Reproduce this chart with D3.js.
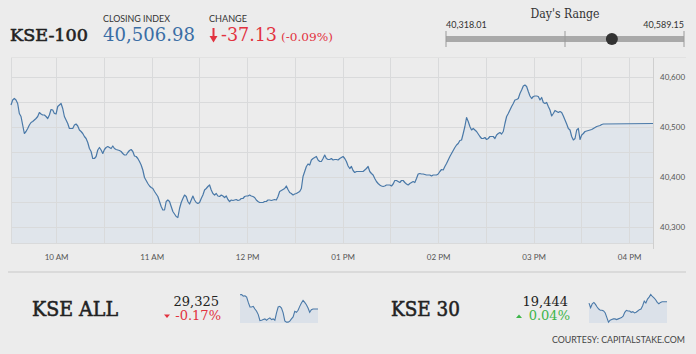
<!DOCTYPE html>
<meta charset="utf-8">
<style>
body { margin: 0; background: #ececec; }
svg { display: block; font-family: Lato, sans-serif; }
.grid line { stroke: #d9dadb; stroke-width: 1; }
.axis text { fill: #555; font-size: 8px; }
.serif { font-family: 'DejaVu Serif', serif; }
</style>
<svg width="696" height="354"></svg>
<script src="https://d3js.org/d3.v7.min.js"></script>
<script>

// KSE-100 intraday, evenly sampled between seriesStart and seriesEnd
var seriesStart = "09:31:40", seriesEnd = "15:43:50";
var kse100 = [
  40544,40554,40557,40554,40547,40527,40521,40504,40487,40491,
  40497,40504,40509,40511,40514,40517,40521,40529,40526,40524,
  40524,40521,40517,40524,40535,40534,40527,40526,40541,40544,
  40547,40537,40521,40514,40507,40497,40497,40497,40504,40506,
  40502,40494,40491,40487,40481,40477,40469,40457,40451,40437,
  40437,40441,40454,40459,40454,40447,40455,40459,40461,40459,
  40457,40462,40457,40455,40454,40453,40451,40447,40444,40444,
  40449,40453,40455,40451,40442,40441,40437,40431,40424,40414,
  40399,40393,40387,40382,40379,40377,40371,40366,40361,40351,
  40341,40334,40334,40351,40354,40351,40341,40331,40326,40321,
  40319,40337,40349,40357,40364,40361,40351,40346,40354,40362,
  40354,40349,40347,40349,40357,40364,40374,40377,40381,40384,
  40374,40367,40364,40367,40362,40361,40364,40362,40359,40362,
  40355,40351,40354,40353,40354,40355,40353,40354,40357,40357,
  40361,40362,40362,40364,40362,40361,40359,40354,40351,40349,
  40349,40349,40351,40351,40354,40354,40353,40354,40355,40354,
  40361,40371,40373,40375,40377,40382,40375,40369,40367,40364,
  40366,40367,40369,40371,40377,40401,40411,40421,40426,40424,
  40434,40437,40439,40441,40434,40431,40431,40437,40444,40437,
  40435,40435,40437,40434,40435,40435,40434,40437,40439,40441,
  40437,40431,40422,40417,
  40421,40413,40409,40411,40411,40411,40411,40411,40414,40417,
  40421,40411,40407,40404,40397,40391,40387,40384,40382,40381,
  40382,40384,40384,40384,40382,40386,40393,40393,40391,40389,
  40393,40393,40389,40386,40384,40387,40389,40391,40389,40397,
  40406,40407,40406,40406,40405,40404,40404,40404,40402,40404,
  40404,40404,40406,40411,40415,40414,40421,40427,40434,40441,
  40447,40453,40459,40464,40467,40473,40474,40487,40501,40519,
  40511,40501,40494,40497,40494,40491,40486,40481,40477,40477,
  40479,40475,40477,40481,40481,40481,40477,40484,40487,40489,
  40486,40491,40507,40521,40527,40534,40541,40547,40554,40555,
  40557,40567,40574,40582,40584,40581,40571,40562,40557,40561,
  40562,40562,40561,40554,40559,40549,40547,40549,40541,40534,
  40522,40527,40533,40531,40529,40531,40529,40522,40514,40506,
  40497,40494,40481,40474,40477,40494,40497,40475,40484,40487,
  40491,40492,40493,40494,40495,40497,40499,40501,40502,40503,
  40505,40506
];
var closeTime = "16:15:00", closeValue = 40506.98;

var axisStart = "09:31:40", axisEnd = "16:15:00";
var yTicksGrid = [40300, 40350, 40400, 40450, 40500, 40550, 40600];
var yTickLabels = [40300, 40400, 40500, 40600];

var dayLow = 40318.01, dayHigh = 40589.15;
var closingIndex = "40,506.98", changeValue = "-37.13", changePct = "(-0.09%)";

var kseAll = [
  29368,29369,29364,29365,29361,29345,29331,29331,29333,29325,
  29318,29308,29290,29291,29293,29295,29291,29295,29298,29293,
  29295,29291,29313,29331,29333,29328,29313,29289,29285,29285,
  29288,29295,29301,29318,29315,29321,29333,29343,29351,29345,
  29338,29328,29315,29323,29325,29325,29325,29325
];
var kse30 = [
  19442,19435,19441,19443,19440,19436,19433,19431,19431,19430,
  19427,19420,19413,19416,19417,19418,19418,19417,19418,19419,
  19420,19422,19428,19431,19430,19430,19428,19429,19427,19428,
  19430,19432,19433,19438,19445,19442,19448,19451,19455,19452,
  19450,19447,19443,19441,19443,19444,19444,19444,19444
];
var subIndices = [
  { name: "KSE ALL", value: "29,325", change: "-0.17%", up: false, series: kseAll },
  { name: "KSE 30", value: "19,444", change: "0.04%", up: true, series: kse30 }
];

var svg = d3.select("svg");
var parse = d3.timeParse("%H:%M:%S");
var red = "#e2323f", green = "#3db54a", lineColor = "#4a79a8", areaColor = "#e0e5eb";

// ---------- header ----------
svg.append("text").attr("class", "serif").attr("x", 10).attr("y", 41)
    .attr("font-size", 17).attr("fill", "#222").attr("stroke", "#222").attr("stroke-width", 0.6)
    .attr("textLength", 78).attr("lengthAdjust", "spacingAndGlyphs").text("KSE-100");

svg.append("text").attr("x", 103).attr("y", 22).attr("font-size", 8.5).attr("fill", "#333")
    .attr("textLength", 67).attr("lengthAdjust", "spacingAndGlyphs").text("CLOSING INDEX");
svg.append("text").attr("class", "serif").attr("x", 103).attr("y", 41)
    .attr("font-size", 18).attr("fill", "#3a6ea5")
    .attr("textLength", 92).attr("lengthAdjust", "spacingAndGlyphs").text(closingIndex);

svg.append("text").attr("x", 209).attr("y", 22).attr("font-size", 8.5).attr("fill", "#333")
    .attr("textLength", 38).attr("lengthAdjust", "spacingAndGlyphs").text("CHANGE");
// down arrow
svg.append("line").attr("x1", 213.5).attr("x2", 213.5).attr("y1", 28).attr("y2", 38)
    .attr("stroke", red).attr("stroke-width", 2);
svg.append("path").attr("d", "M209.5,36L217.5,36L213.5,42.5Z").attr("fill", red);
svg.append("text").attr("class", "serif").attr("x", 221).attr("y", 41)
    .attr("font-size", 18).attr("fill", red)
    .attr("textLength", 56).attr("lengthAdjust", "spacingAndGlyphs").text(changeValue);
svg.append("text").attr("class", "serif").attr("x", 281).attr("y", 41)
    .attr("font-size", 11).attr("fill", red)
    .attr("textLength", 52).attr("lengthAdjust", "spacingAndGlyphs").text(changePct);

// day's range
var rx = d3.scaleLinear().domain([dayLow, dayHigh]).range([446, 684]);
svg.append("text").attr("class", "serif").attr("x", 565).attr("y", 18)
    .attr("text-anchor", "middle").attr("font-size", 12).attr("fill", "#333")
    .attr("textLength", 69).attr("lengthAdjust", "spacingAndGlyphs").text("Day's Range");
svg.append("text").attr("x", 446).attr("y", 28).attr("font-size", 9).attr("fill", "#333")
    .text(d3.format(",.2f")(dayLow));
svg.append("text").attr("x", 684).attr("y", 28).attr("text-anchor", "end")
    .attr("font-size", 9).attr("fill", "#333").text(d3.format(",.2f")(dayHigh));
svg.append("line").attr("x1", rx(dayLow)).attr("x2", rx(dayHigh)).attr("y1", 39).attr("y2", 39)
    .attr("stroke", "#a9a9a9").attr("stroke-width", 6);
[dayLow, (dayLow + dayHigh) / 2, dayHigh].forEach(function(v) {
  svg.append("line").attr("x1", rx(v)).attr("x2", rx(v)).attr("y1", 31).attr("y2", 47)
      .attr("stroke", "#9a9a9a").attr("stroke-width", 1);
});
svg.append("circle").attr("cx", rx(closeValue)).attr("cy", 39).attr("r", 6).attr("fill", "#333");

// ---------- main chart ----------
var x = d3.scaleTime().domain([parse(axisStart), parse(axisEnd)]).range([11, 653]);
var y = d3.scaleLinear().domain([40268, 40638]).range([243, 58]);

var idx = d3.scaleLinear().domain([0, kse100.length - 1])
    .range([parse(seriesStart).getTime(), parse(seriesEnd).getTime()]);
var data = kse100.map(function(v, i) { return { t: new Date(idx(i)), v: v }; });
data.push({ t: parse(closeTime), v: closeValue });

svg.append("line").attr("x1", 11).attr("x2", 686).attr("y1", 57.5).attr("y2", 57.5)
    .attr("stroke", "#e2e2e2");

var area = d3.area().x(function(d) { return x(d.t); }).y0(y.range()[0]).y1(function(d) { return y(d.v); });
svg.append("path").datum(data).attr("d", area).attr("fill", areaColor);

var grid = svg.append("g").attr("class", "grid");
grid.selectAll(".h").data(yTicksGrid).enter().append("line")
    .attr("x1", 11).attr("x2", 653).attr("y1", function(d) { return Math.round(y(d)) + 0.5; })
    .attr("y2", function(d) { return Math.round(y(d)) + 0.5; });
grid.append("line").attr("x1", 11).attr("x2", 653).attr("y1", 243.5).attr("y2", 243.5);
var vt = d3.timeMinute.every(30).range(x.domain()[0], x.domain()[1]);
grid.selectAll(".v").data(vt).enter().append("line")
    .attr("x1", function(d) { return Math.round(x(d)) + 0.5; })
    .attr("x2", function(d) { return Math.round(x(d)) + 0.5; })
    .attr("y1", 58).attr("y2", 243);
grid.append("line").attr("x1", 11.5).attr("x2", 11.5).attr("y1", 58).attr("y2", 243);
grid.append("line").attr("x1", 653.5).attr("x2", 653.5).attr("y1", 58).attr("y2", 249)
    .style("stroke", "#cfcfcf");

var line = d3.line().x(function(d) { return x(d.t); }).y(function(d) { return y(d.v); });
svg.append("path").datum(data).attr("d", line).attr("fill", "none")
    .attr("stroke", lineColor).attr("stroke-width", 1.2).attr("stroke-linejoin", "round");

var xAxis = svg.append("g").attr("class", "axis").attr("transform", "translate(0,243)")
    .call(d3.axisBottom(x).ticks(d3.timeHour.every(1)).tickFormat(d3.timeFormat("%I %p"))
      .tickSize(0).tickPadding(11));
xAxis.select(".domain").remove();
xAxis.selectAll("text").attr("font-family", "Lato, sans-serif");

var yAxis = svg.append("g").attr("class", "axis").attr("transform", "translate(653,0)")
    .call(d3.axisRight(y).tickValues(yTickLabels).tickFormat(d3.format(",")).tickSize(0).tickPadding(7));
yAxis.select(".domain").remove();
yAxis.selectAll("text").attr("font-family", "Lato, sans-serif");

// ---------- bottom strip ----------
svg.append("line").attr("x1", 8).attr("x2", 686).attr("y1", 272).attr("y2", 272)
    .attr("stroke", "#d4d4d4").attr("stroke-width", 1.5);

var layout = [
  { nameX: 32, nameW: 86, valX: 219, sx: [240, 318] },
  { nameX: 391, nameW: 69, valX: 568, sx: [589, 667] }
];

subIndices.forEach(function(s, i) {
  var L = layout[i];
  svg.append("text").attr("class", "serif").attr("x", L.nameX).attr("y", 316)
      .attr("font-size", 21).attr("fill", "#222").attr("stroke", "#222").attr("stroke-width", 0.6)
      .attr("textLength", L.nameW).attr("lengthAdjust", "spacingAndGlyphs").text(s.name);
  svg.append("text").attr("class", "serif").attr("x", L.valX).attr("y", 306)
      .attr("text-anchor", "end").attr("font-size", 13).attr("fill", "#222").text(s.value);
  svg.append("text").attr("class", "serif").attr("x", L.valX + 2).attr("y", 320)
      .attr("text-anchor", "end").attr("font-size", 13).attr("fill", s.up ? green : red).text(s.change);
  var bx = L.valX - (s.up ? 49 : 52);
  svg.append("path")
      .attr("d", s.up ? "M" + (bx - 3) + ",318L" + (bx + 3) + ",318L" + bx + ",314.5Z"
                      : "M" + (bx - 3) + ",314.5L" + (bx + 3) + ",314.5L" + bx + ",318Z")
      .attr("fill", s.up ? green : red);

  var sxs = d3.scaleLinear().domain([0, s.series.length - 1]).range(L.sx);
  var ext = d3.extent(s.series);
  var sys = d3.scaleLinear().domain([ext[0] - (ext[1] - ext[0]) * 0.03, ext[1]]).range([323, 294.5]);
  svg.append("path").datum(s.series)
      .attr("d", d3.area().x(function(d, j) { return sxs(j); }).y0(323).y1(function(d) { return sys(d); }))
      .attr("fill", "#dbe1e9");
  svg.append("path").datum(s.series)
      .attr("d", d3.line().x(function(d, j) { return sxs(j); }).y(function(d) { return sys(d); }))
      .attr("fill", "none").attr("stroke", lineColor).attr("stroke-width", 1.1);
});

svg.append("text").attr("x", 685).attr("y", 343).attr("text-anchor", "end")
    .attr("font-size", 8.5).attr("fill", "#444")
    .attr("textLength", 133).attr("lengthAdjust", "spacingAndGlyphs").text("COURTESY: CAPITALSTAKE.COM");

</script>
